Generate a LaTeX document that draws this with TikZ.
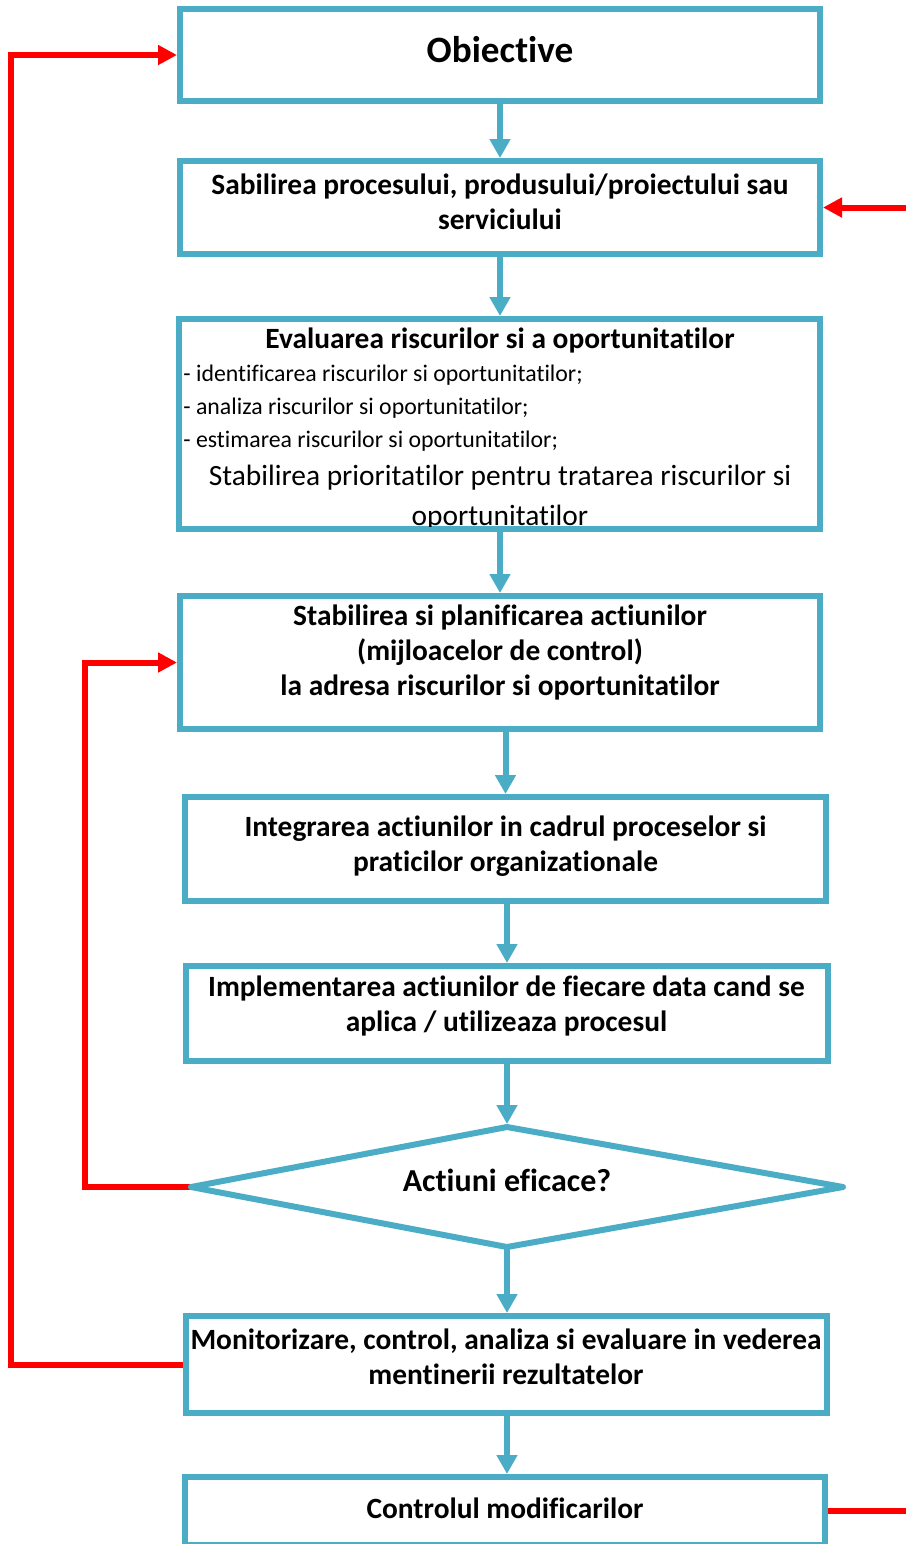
\documentclass[tikz,border=0pt]{standalone}
\usepackage{fontspec}
\setmainfont{Carlito}[Ligatures={NoCommon,NoContextual,NoRare}]
\usepackage{tikz}
\usetikzlibrary{arrows.meta}
\usepackage{xcolor}

\definecolor{albastru}{RGB}{75,172,198}
\definecolor{rosu}{RGB}{255,0,0}

\begin{document}
\begin{tikzpicture}[x=0.5pt, y=-0.5pt,
	caseta/.style={draw=albastru, line width=3pt, inner sep=0pt},
	titlu/.style={font=\fontsize{18.6}{22}\selectfont\bfseries, inner sep=0pt},
	gras/.style={font=\fontsize{14.7}{17.5}\selectfont\bfseries, align=center, inner sep=0pt},
	mic/.style={font=\fontsize{11.9}{16.5}\selectfont, align=left, inner sep=0pt},
	simplu/.style={font=\fontsize{14.7}{20}\selectfont, align=center, inner sep=0pt},
	sageata/.style={albastru, line width=3pt, -{Triangle[length=9.5pt, width=10pt]}},
	bucla/.style={rosu, line width=3pt}]
	\useasboundingbox (0,0) rectangle (906,1544);
	% casetele
	\node[caseta, minimum width=320pt, minimum height=46pt] (obiective) at (500,55) {};
	\node[caseta, minimum width=320pt, minimum height=46.5pt] (stabilire) at (500,207.5) {};
	\node[caseta, minimum width=320.5pt, minimum height=105pt] (evaluare) at (499.5,424) {};
	\node[caseta, minimum width=320pt, minimum height=66.5pt] (planificare) at (500,662.5) {};
	\node[caseta, minimum width=320.5pt, minimum height=52pt] (integrare) at (505.5,849) {};
	\node[caseta, minimum width=321pt, minimum height=47.5pt] (implementare) at (507,1013.5) {};
	\node[caseta, minimum width=320.5pt, minimum height=48.5pt] (monitorizare) at (506.5,1364.5) {};
	\node[caseta, minimum width=320pt, minimum height=34pt] (control) at (505,1511) {};
	% textele
	\node[titlu] (t-obiective) at (500,50) {Obiective};
	\node[gras] (t-stabilire) at (500,201.5) {Sabilirea procesului, produsului/proiectului sau\\serviciului};
	\begin{scope}
		\clip (182,322) rectangle (817,526);
		\node[gras] (t-evaluare) at (500,340) {Evaluarea riscurilor si a oportunitatilor};
		\node[mic, anchor=west] (t-pasi) at (183,408) {- identificarea riscurilor si oportunitatilor;\\- analiza riscurilor si oportunitatilor;\\- estimarea riscurilor si oportunitatilor;};
		\node[simplu] (t-prioritati) at (500,498) {Stabilirea prioritatilor pentru tratarea riscurilor si\\oportunitatilor};
	\end{scope}
	\node[gras] (t-planificare) at (500,652.5) {Stabilirea si planificarea actiunilor\\(mijloacelor de control)\\la adresa riscurilor si oportunitatilor};
	\node[gras] (t-integrare) at (505.5,846.5) {Integrarea actiunilor in cadrul proceselor si\\praticilor organizationale};
	\node[gras] (t-implementare) at (506.5,1005.5) {Implementarea actiunilor de fiecare data cand se\\aplica / utilizeaza procesul};
	\node[gras] (t-monitorizare) at (506,1356.5) {Monitorizare, control, analiza si evaluare in vederea\\mentinerii rezultatelor};
	\node[gras] (t-control) at (505,1508) {Controlul modificarilor};
	% decizia
	\coordinate (d-sus) at (507,1127);
	\coordinate (d-dr) at (843,1187);
	\coordinate (d-jos) at (507,1247);
	\coordinate (d-st) at (191,1187);
	% buclele rosii
	\draw[bucla, -{Triangle[length=9.5pt, width=9.5pt]}] (monitorizare.west) -- ++(-172,0) |- (obiective.west);
	\draw[bucla, -{Triangle[length=9.5pt, width=9.5pt]}] (d-st) -- ++(-106,0) |- (planificare.west);
	\draw[bucla, {Triangle[length=9.5pt, width=9.5pt]}-] (stabilire.east) -- ++(83,0);
	\draw[bucla] (control.east) -- ++(78,0);
	\draw[albastru, line width=3pt, line join=round] (d-sus) -- (d-dr) -- (d-jos) -- (d-st) -- cycle;
	\node[gras, font=\fontsize{16}{19}\selectfont\bfseries] (t-decizie) at (507,1180) {Actiuni eficace?};
	% sagetile albastre
	\draw[sageata] (obiective.south) -- (stabilire.north);
	\draw[sageata] (stabilire.south) -- (stabilire.south |- evaluare.north);
	\draw[sageata] (evaluare.south -| planificare.north) -- (planificare.north);
	\draw[sageata] (planificare.south -| integrare.north) -- (integrare.north);
	\draw[sageata] (integrare.south -| implementare.north) -- (implementare.north);
	\draw[sageata, shorten >=1.5pt] (implementare.south -| d-sus) -- (d-sus);
	\draw[sageata] (d-jos) -- (d-jos |- monitorizare.north);
	\draw[sageata] (monitorizare.south -| d-jos) -- (d-jos |- control.north);
\end{tikzpicture}
\end{document}
